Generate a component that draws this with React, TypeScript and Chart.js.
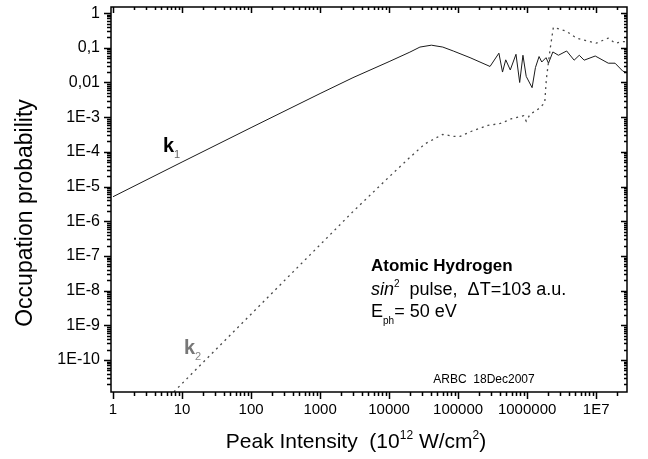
import React, { useEffect, useRef } from 'react';
import { Chart, registerables } from 'chart.js';
Chart.register(...registerables);

// ---- data ----
const k1Intensity = [1, 10, 100, 1000, 3000, 10000, 20000, 28000, 41000, 60000, 85000, 149000, 290000, 390000, 440000, 490000, 570000, 690000, 780000, 870000, 970000, 1180000, 1320000, 1490000, 1630000, 1880000, 2040000, 2360000, 2840000, 3740000, 4800000, 5700000, 6700000, 9700000, 15000000, 18800000, 24500000, 28000000];
const k1Prob = [5.1e-6, 5.1e-5, 5.0e-4, 4.8e-3, 0.0138, 0.04, 0.075, 0.105, 0.119, 0.105, 0.081, 0.052, 0.029, 0.07, 0.02, 0.045, 0.023, 0.065, 0.01, 0.061, 0.015, 0.0071, 0.027, 0.056, 0.039, 0.052, 0.036, 0.076, 0.061, 0.081, 0.044, 0.061, 0.044, 0.058, 0.036, 0.036, 0.021, 0.02];

const k2Intensity = [5, 10, 100, 1000, 3000, 10000, 19000, 33000, 60000, 87000, 107000, 160000, 270000, 410000, 600000, 890000, 970000, 1100000, 1500000, 1800000, 1900000, 2150000, 2400000, 3700000, 5200000, 10000000, 15000000, 18800000, 24500000, 28000000];
const k2Prob = [5.2e-12, 2.1e-11, 2.1e-9, 2.1e-7, 1.9e-6, 1.9e-5, 6.3e-5, 1.7e-4, 3.2e-4, 2.8e-4, 2.8e-4, 4.0e-4, 5.8e-4, 6.6e-4, 9.1e-4, 1.1e-3, 7.7e-4, 1.2e-3, 1.8e-3, 2.6e-3, 0.0125, 0.09, 0.39, 0.3, 0.19, 0.136, 0.19, 0.136, 0.15, 0.15];

const xTickValues = [1, 10, 100, 1000, 10000, 100000, 1000000, 10000000];
const xTickLabels = ['1', '10', '100', '1000', '10000', '100000', '1000000', '1E7'];
const yTickValues = [1, 0.1, 0.01, 1e-3, 1e-4, 1e-5, 1e-6, 1e-7, 1e-8, 1e-9, 1e-10];
const yTickLabels = ['1', '0,1', '0,01', '1E-3', '1E-4', '1E-5', '1E-6', '1E-7', '1E-8', '1E-9', '1E-10'];

const FONT = '"Liberation Sans", Arial, sans-serif';

type Run = { text: string; size: number; weight?: string; style?: string; dy?: number; color?: string };

function drawRuns(ctx: CanvasRenderingContext2D, runs: Run[], x: number, y: number, align: 'left' | 'center' = 'left') {
  const fontOf = (r: Run) => `${r.style || 'normal'} ${r.weight || 'normal'} ${r.size}px ${FONT}`;
  let total = 0;
  for (const r of runs) { ctx.font = fontOf(r); total += ctx.measureText(r.text).width; }
  let cx = align === 'center' ? x - total / 2 : x;
  ctx.textAlign = 'left';
  ctx.textBaseline = 'alphabetic';
  for (const r of runs) {
    ctx.font = fontOf(r);
    ctx.fillStyle = r.color || '#000';
    ctx.fillText(r.text, cx, y + (r.dy || 0));
    cx += ctx.measureText(r.text).width;
  }
}

const framePlugin = {
  id: 'originFrame',
  afterDraw(chart: any) {
    const { ctx, chartArea: a, scales } = chart;
    const xs = scales.x, ys = scales.y;
    ctx.save();
    ctx.strokeStyle = '#000';
    ctx.lineWidth = 1.5;
    ctx.strokeRect(a.left, a.top, a.right - a.left, a.bottom - a.top);
    const major = 7, minor = 4;
    ctx.beginPath();
    for (let d = -1; d <= 8; d++) {
      for (let m = 1; m <= 9; m++) {
        const v = m * Math.pow(10, d);
        if (v < xs.min || v > xs.max) continue;
        const px = Math.round(xs.getPixelForValue(v)) + 0.5;
        const len = m === 1 ? major : minor;
        ctx.moveTo(px, a.bottom); ctx.lineTo(px, a.bottom + len);
        ctx.moveTo(px, a.top); ctx.lineTo(px, a.top + len - 1);
      }
    }
    for (let d = -12; d <= 1; d++) {
      for (let m = 1; m <= 9; m++) {
        const v = m * Math.pow(10, d);
        if (v < ys.min || v > ys.max) continue;
        const py = Math.round(ys.getPixelForValue(v)) + 0.5;
        const len = m === 1 ? major : minor;
        ctx.moveTo(a.left, py); ctx.lineTo(a.left - len, py);
        ctx.moveTo(a.right, py); ctx.lineTo(a.right - len + 1, py);
      }
    }
    ctx.stroke();

    // axis titles
    ctx.save();
    ctx.translate(26, 213);
    ctx.rotate(-Math.PI / 2);
    ctx.font = `23px ${FONT}`;
    ctx.fillStyle = '#000';
    ctx.textAlign = 'center';
    ctx.textBaseline = 'middle';
    ctx.fillText('Occupation probability', 0, 0);
    ctx.restore();

    drawRuns(ctx, [
      { text: 'Peak Intensity  (10', size: 21 },
      { text: '12', size: 12, dy: -9 },
      { text: ' W/cm', size: 21 },
      { text: '2', size: 12, dy: -9 },
      { text: ')', size: 21 },
    ], 356, 448, 'center');

    // curve labels
    drawRuns(ctx, [
      { text: 'k', size: 20, weight: 'bold' },
      { text: '1', size: 11, dy: 6, color: '#666' },
    ], 163, 152);
    drawRuns(ctx, [
      { text: 'k', size: 20, weight: 'bold', color: '#777' },
      { text: '2', size: 11, dy: 6, color: '#888' },
    ], 184, 354);

    // info block
    drawRuns(ctx, [{ text: 'Atomic Hydrogen', size: 17, weight: 'bold' }], 371, 271);
    drawRuns(ctx, [
      { text: 'sin', size: 18, style: 'italic' },
      { text: '2', size: 10, dy: -8 },
      { text: '  pulse,  \u0394T=103 a.u.', size: 18 },
    ], 371, 295);
    drawRuns(ctx, [
      { text: 'E', size: 18 },
      { text: 'ph', size: 10, dy: 7 },
      { text: '= 50 eV', size: 18 },
    ], 371, 317);
    drawRuns(ctx, [{ text: 'ARBC  18Dec2007', size: 12 }], 484, 383, 'center');
    ctx.restore();
  },
};

function labelFor(values: number[], labels: string[], v: number) {
  for (let i = 0; i < values.length; i++) {
    if (Math.abs(Math.log10(values[i]) - Math.log10(v)) < 1e-6) return labels[i];
  }
  return '';
}

export default function App() {
  const ref = useRef<HTMLCanvasElement>(null);
  useEffect(() => {
    document.body.style.margin = '0';
    const chart = new Chart(ref.current as HTMLCanvasElement, {
      type: 'line',
      data: {
        datasets: [
          {
            label: 'k1',
            data: k1Intensity.map((x, i) => ({ x, y: k1Prob[i] })),
            borderColor: '#1a1a1a',
            borderWidth: 1,
            pointRadius: 0,
            tension: 0,
          },
          {
            label: 'k2',
            data: k2Intensity.map((x, i) => ({ x, y: k2Prob[i] })),
            borderColor: '#4a4a4a',
            borderWidth: 1.3,
            borderDash: [2, 4],
            pointRadius: 0,
            tension: 0,
          },
        ],
      },
      options: {
        responsive: false,
        animation: false,
        layout: { padding: { top: 7, right: 21, left: 0, bottom: 0 } },
        plugins: { legend: { display: false }, tooltip: { enabled: false } },
        scales: {
          x: {
            type: 'logarithmic',
            position: 'bottom',
            min: 0.935,
            max: 2.8e7,
            grid: { display: false, drawTicks: false },
            border: { display: false },
            afterBuildTicks: (s: any) => { s.ticks = xTickValues.map((v) => ({ value: v })); },
            afterFit: (s: any) => { s.height = 67; s.paddingLeft = 0; s.paddingRight = 0; },
            ticks: {
              autoSkip: false,
              maxRotation: 0,
              padding: 9,
              color: '#000',
              font: { family: FONT, size: 15 },
              callback: (v: any) => labelFor(xTickValues, xTickLabels, Number(v)),
            },
          },
          y: {
            type: 'logarithmic',
            position: 'left',
            min: 1.2e-11,
            max: 1.5,
            grid: { display: false, drawTicks: false },
            border: { display: false },
            afterBuildTicks: (s: any) => { s.ticks = yTickValues.map((v) => ({ value: v })); },
            afterFit: (s: any) => { s.width = 111; s.paddingTop = 0; s.paddingBottom = 0; },
            ticks: {
              autoSkip: false,
              padding: 11,
              color: '#000',
              font: { family: FONT, size: 16 },
              callback: (v: any) => labelFor(yTickValues, yTickLabels, Number(v)),
            },
          },
        },
      },
      plugins: [framePlugin],
    });
    return () => chart.destroy();
  }, []);
  return (
    <div style={{ width: 648, height: 459 }}>
      <canvas ref={ref} width={648} height={459} style={{ width: 648, height: 459, display: 'block' }} />
    </div>
  );
}
